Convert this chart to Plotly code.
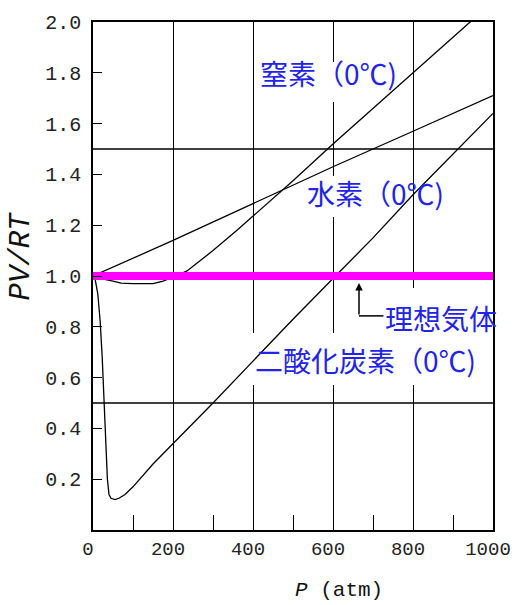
import plotly.graph_objects as go

# ---- data ----
n2_p = [0, 20, 50, 70, 100, 150, 175, 200, 235, 300, 360, 400, 500, 600, 700, 800, 900, 1000]
n2_z = [1.0, 0.99, 0.98, 0.972, 0.97, 0.97, 0.98, 0.995, 1.02, 1.10, 1.18, 1.235, 1.375, 1.52, 1.66, 1.80, 1.94, 2.08]

h2_p = [0, 200, 400, 600, 800, 1000]
h2_z = [1.0, 1.14, 1.285, 1.43, 1.57, 1.71]

co2_p = [0, 5, 12, 18, 23, 28, 32, 36, 40, 45, 55, 65, 80, 100, 150, 200, 300, 400, 500, 600, 700, 800, 900, 1000]
co2_z = [1.0, 0.99, 0.93, 0.82, 0.68, 0.50, 0.35, 0.20, 0.14, 0.125, 0.12, 0.125, 0.14, 0.17, 0.26, 0.34, 0.50, 0.665, 0.83, 0.99, 1.15, 1.32, 1.48, 1.64]

ideal_p = [-12, 1000]
ideal_z = [1.0, 1.0]

x_tickvals = [0, 200, 400, 600, 800, 1000]
x_ticktext = ["0", "200", "400", "600", "800", "1000"]
y_tickvals = [0.2, 0.4, 0.6, 0.8, 1.0, 1.2, 1.4, 1.6, 1.8, 2.0]
y_ticktext = ["0.2", "0.4", "0.6", "0.8", "1.0", "1.2", "1.4", "1.6", "1.8", "2.0"]

labels = ["窒素（0℃)", "水素（0℃)", "理想気体", "二酸化炭素（0℃)"]

BLUE = "rgb(35,35,230)"
MONO = "Liberation Mono, DejaVu Sans Mono, monospace"
CJK = "Noto Sans CJK JP, sans-serif"

fig = go.Figure()
curve = dict(color="black", width=1.3)
fig.add_trace(go.Scatter(x=n2_p, y=n2_z, mode="lines", line=curve, hoverinfo="skip"))
fig.add_trace(go.Scatter(x=h2_p, y=h2_z, mode="lines", line=curve, hoverinfo="skip"))
fig.add_trace(go.Scatter(x=co2_p, y=co2_z, mode="lines", line=curve, hoverinfo="skip"))
fig.add_trace(go.Scatter(x=ideal_p, y=ideal_z, mode="lines", line=dict(color="#ff00ff", width=8),
                         cliponaxis=False, hoverinfo="skip"))

# horizontal grid lines (only at 0.5 and 1.5)
for yv in [0.5, 1.5]:
    fig.add_shape(type="line", xref="x", yref="y", x0=0, x1=1000, y0=yv, y1=yv,
                  line=dict(color="black", width=1.3), layer="below")

# white boxes behind labels hiding grid lines
for x0, x1, y0, y1 in [(405, 787, 1.685, 1.843), (517, 687, 1.232, 1.394),
                       (712, 1000, 0.768, 0.953), (367, 993, 0.571, 0.776)]:
    fig.add_shape(type="rect", xref="x", yref="y", x0=x0, x1=x1, y0=y0, y1=y1,
                  fillcolor="white", line=dict(width=0), layer="between")

# labels
pos = [(412, 1.80), (530, 1.325), (725, 0.835), (400, 0.67)]
for t, (xx, yy) in zip(labels, pos):
    fig.add_annotation(x=xx, y=yy, xref="x", yref="y", text=t, showarrow=False,
                       xanchor="left", yanchor="middle",
                       font=dict(family=CJK, size=28, color=BLUE))

# arrow for ideal gas
fig.add_annotation(x=665, y=0.972, xref="x", yref="y", text="", showarrow=True,
                   ax=0, ay=33, arrowhead=2, arrowsize=1, arrowwidth=1.5, arrowcolor="black")
fig.add_shape(type="line", xref="x", yref="y", x0=665, x1=726, y0=0.843, y1=0.843,
              line=dict(color="black", width=1.5), layer="above")

# axis titles
fig.add_annotation(x=0.5, y=-0.12, xref="paper", yref="paper", text="<i>P</i> (atm)",
                   showarrow=False, xanchor="left", yanchor="middle",
                   font=dict(family=MONO, size=21, color="#111"))
fig.add_annotation(x=-0.178, y=0.54, xref="paper", yref="paper", text="<i>PV/RT</i>",
                   showarrow=False, textangle=-90, xanchor="center", yanchor="middle",
                   font=dict(family=MONO, size=29, color="#111"))

fig.update_xaxes(range=[0, 1000], tickvals=x_tickvals, ticktext=x_ticktext,
                 ticks="inside", ticklen=15, tickwidth=1.3, tickcolor="black",
                 minor=dict(ticks="inside", dtick=100, tick0=0, ticklen=15, tickwidth=1.3, tickcolor="black"),
                 showgrid=True, gridcolor="black", gridwidth=1.3,
                 showline=True, linecolor="black", linewidth=1.6, mirror=True,
                 zeroline=False, automargin=False, ticklabelshift=-5,
                 tickfont=dict(family=MONO, size=19, color="#222"))
fig.update_yaxes(range=[0, 2.0], tickvals=y_tickvals, ticktext=y_ticktext,
                 ticks="inside", ticklen=9, tickwidth=1.3, tickcolor="black",
                 showgrid=False, showline=True, linecolor="black", linewidth=1.6, mirror=True,
                 zeroline=False, ticklabelstandoff=6, automargin=False,
                 tickfont=dict(family=MONO, size=20, color="#222"))

fig.update_layout(width=516, height=605, margin=dict(l=93, r=23, t=22, b=75),
                  plot_bgcolor="white", paper_bgcolor="white", showlegend=False)

# remove the browser's default 8px body margin so the figure fills the window exactly
fig.write_html("out.html", config={"displayModeBar": False},
               post_script="document.body.style.margin='0';document.body.style.overflow='hidden';")
